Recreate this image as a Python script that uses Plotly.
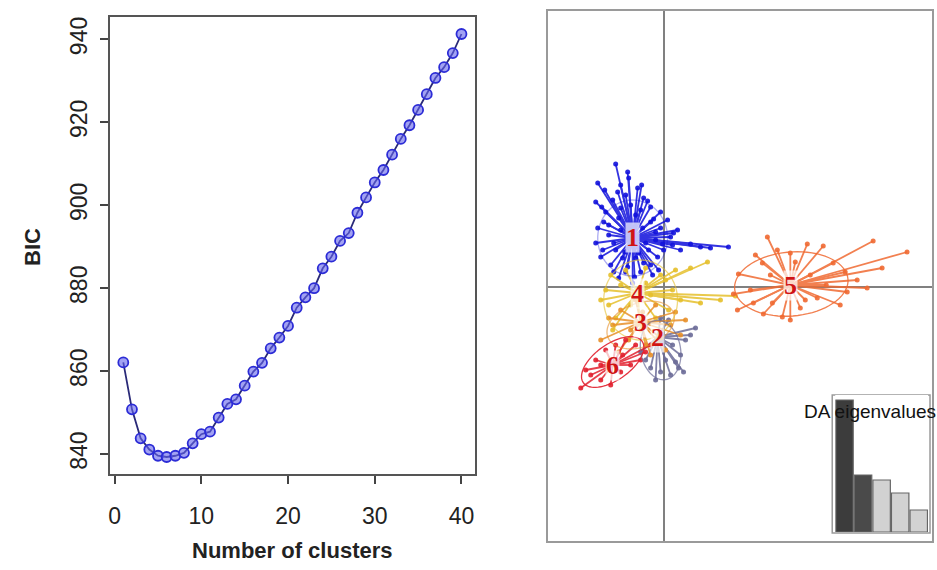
import numpy as np
import plotly.graph_objects as go

# ---------------- data: BIC curve ----------------
n_clusters = list(range(1, 41))
bic = [862.1, 850.8, 843.8, 841.1, 839.6, 839.3, 839.6, 840.3, 842.6, 844.8,
       845.4, 848.8, 852.1, 853.2, 856.5, 859.9, 862.0, 865.5, 868.1, 870.9,
       875.3, 877.8, 880.0, 884.8, 887.6, 891.4, 893.3, 898.2, 901.9, 905.5,
       908.5, 912.2, 916.0, 919.3, 923.0, 926.8, 930.7, 933.3, 936.7, 941.3]
bic_xticks = [0, 10, 20, 30, 40]
bic_yticks = [840, 860, 880, 900, 920, 940]

# ---------------- data: DAPC scatter (LD1, LD2) ----------------
cluster_labels = ["1", "2", "3", "4", "5", "6"]
cent_ld1 = [-3.1, -0.6, -2.3, -2.6, 12.7, -5.1]
cent_ld2 = [4.9, -5.0, -3.5, -0.6, 0.2, -7.8]

clu1_ld1 = [-4.8, -6.6, -4.3, -6.8, -2.6, -2.0, -1.3, -0.3, 0.4, 1.4, 0.7, 4.7, 6.5,
            -6.6, -6.8, -6.3, -5.3, -3.6, -2.0, -0.6, 0.0, -5.8, -5.1, -3.8, -3.3,
            -2.3, -4.5, -5.5, -4.8, -4.1, -2.8, -1.5, -0.8, -0.3, -1.3, -6.0, 0.9,
            2.7, 3.7, 1.7, -3.8, -2.3, -4.5, -1.3, -3.5, -5.9, -0.8, -5.0, -1.8,
            -4.3, -2.1, -2.8, -4.3, -0.5, -3.1,
            -1.0, -5.5, -2.5, -3.9, -1.6, -4.6, -6.2, -0.1, 1.0, -6.1, -5.0, -2.9,
            -1.1, -3.6, -2.2]
clu1_ld2 = [12.3, 10.4, 10.2, 8.5, 9.9, 8.9, 8.0, 7.5, 6.7, 5.7, 5.0, 3.9, 4.0,
            5.9, 4.4, 3.0, 2.2, 2.0, 2.4, 3.0, 3.7, 7.5, 8.7, 9.2, 8.2,
            7.7, 6.9, 5.2, 3.7, 2.9, 2.9, 3.7, 4.7, 5.9, 6.5, 6.5, 4.2,
            4.3, 4.0, 3.7, 1.5, 1.5, 0.9, 2.2, 10.9, 9.7, 5.5, 4.4, 4.4,
            5.7, 5.9, 7.2, 7.9, 1.7, 0.4,
            6.8, 6.2, 3.4, 3.5, 8.6, 9.5, 8.0, 4.3, 5.4, 3.7, 1.5, 1.0,
            1.2, 11.5, 10.2]

clu2_ld1 = [3.2, 2.2, 1.7, 1.5, 0.7, -0.3, -1.3, -1.8, -2.3, 0.9, 2.7, 0.5, -0.3,
            1.2, -0.8, 0.2, 2.0]
clu2_ld2 = [-4.1, -5.3, -6.8, -8.1, -8.8, -8.5, -8.1, -7.3, -6.5, -5.8, -4.8, -3.3, -3.1,
            -7.5, -9.3, -7.3, -8.5]

clu3_ld1 = [-4.3, -5.1, -3.5, -1.8, -0.3, 0.7, 1.2, -0.8, -2.8, -6.3, -4.5, -1.3,
            0.2, 2.2, -3.3, -5.5, -2.1, 1.7]
clu3_ld2 = [-2.3, -3.8, -5.3, -5.8, -5.1, -3.8, -2.5, -1.8, -1.3, -5.3, -6.5, -6.8,
            -6.3, -3.3, -4.3, -3.1, -2.5, -4.8]

clu4_ld1 = [-5.3, -5.8, -5.5, -4.8, -3.8, -1.8, -0.3, 1.2, 4.4, 2.7, 0.9, 1.7, 3.7,
            7.2, 5.7, 0.5, -0.8, -4.3, -1.3, -3.3, -1.8, -5.1, -2.3, 0.2, -6.3]
clu4_ld2 = [1.2, -0.3, -1.8, -3.1, 1.7, 1.9, 1.2, 1.7, 2.5, 1.9, -0.3, -1.3, -1.6,
            -0.9, -1.3, -2.3, -3.1, 0.2, -0.8, -1.8, 0.4, -4.3, -4.3, 0.7, -1.3]

clu5_ld1 = [10.4, 14.4, 16.0, 21.0, 24.4, 21.9, 9.9, 7.5, 7.0, 7.4, 10.0, 11.9, 13.7,
            17.7, 18.4, 20.4, 19.4, 17.0, 11.4, 12.7, 8.7, 9.0, 15.4, 10.9, 13.2,
            14.7, 10.7, 14.2, 16.3, 18.2, 9.2, 12.7]
clu5_ld2 = [5.0, 4.3, 4.1, 4.6, 3.5, 1.9, 2.4, 1.3, -0.7, -2.3, -2.7, -3.0, -2.1,
            -1.8, -0.5, -0.1, 0.7, 2.4, 3.7, 3.4, -0.3, -1.6, -1.1, -1.6, 2.5,
            1.2, 1.2, -1.3, 0.2, 1.5, 3.2, -3.3]

clu6_ld1 = [-8.3, -7.3, -6.3, -6.8, -5.8, -4.8, -3.8, -2.8, -1.8, -4.3, -3.3, -5.3,
            -7.8, -2.3, -1.3, -6.3, -4.1]
clu6_ld2 = [-10.1, -8.8, -9.3, -7.3, -6.3, -5.8, -5.3, -5.8, -6.5, -8.5, -7.8, -9.8,
            -8.3, -7.3, -5.8, -7.8, -6.8]

# ellipse parameters (centre, semi-axes, angle in degrees)
ell_cx = [-3.1, -0.3, -2.3, -2.3, 12.8, -5.1]
ell_cy = [4.9, -6.3, -3.8, -1.3, 0.3, -7.5]
ell_a = [3.5, 2.0, 3.5, 3.7, 5.7, 3.6]
ell_b = [3.8, 3.0, 2.2, 4.0, 3.2, 1.8]
ell_ang = [0, 10, 20, 0, 5, 35]

# DA eigenvalues inset
da_eig = [13.2, 5.7, 5.2, 3.9, 2.2]
da_eig_idx = [1, 2, 3, 4, 5]

# ---------------- styles ----------------
W, H = 937, 570
colors = ["#1212dc", "#6c6c98", "#e8902a", "#e6c02c", "#f06a32", "#e2202e"]
ell_opacity = [0.35, 0.7, 0.6, 0.6, 0.85, 0.9]
clu_ld1 = [clu1_ld1, clu2_ld1, clu3_ld1, clu4_ld1, clu5_ld1, clu6_ld1]
clu_ld2 = [clu1_ld2, clu2_ld2, clu3_ld2, clu4_ld2, clu5_ld2, clu6_ld2]


def px_x(p):
    return p / W


def px_y(p):
    return 1 - p / H


fig = go.Figure()

# ---- left: BIC ----
fig.add_trace(go.Scatter(
    x=n_clusters, y=bic, mode="lines+markers", xaxis="x", yaxis="y",
    line=dict(color="#2a2a78", width=1.8),
    marker=dict(symbol="circle", size=10, color="rgba(100,100,235,0.6)",
                line=dict(color="#2c2cd6", width=1.8)),
    showlegend=False, hoverinfo="x+y"))

# ---- right: DAPC scatter ----
draw_order = [0, 1, 3, 2, 5, 4]
for k in draw_order:
    sx, sy = [], []
    for a, b in zip(clu_ld1[k], clu_ld2[k]):
        sx += [cent_ld1[k], a, None]
        sy += [cent_ld2[k], b, None]
    fig.add_trace(go.Scatter(x=sx, y=sy, mode="lines", xaxis="x2", yaxis="y2",
                             line=dict(color=colors[k], width=1.8), opacity=0.85,
                             showlegend=False, hoverinfo="skip"))
    fig.add_trace(go.Scatter(x=clu_ld1[k], y=clu_ld2[k], mode="markers",
                             xaxis="x2", yaxis="y2",
                             marker=dict(size=5, color=colors[k]), opacity=0.9,
                             showlegend=False, name="cluster " + cluster_labels[k]))

shapes = []
t = np.linspace(0, 2 * np.pi, 72)
for k in range(6):
    th = np.deg2rad(ell_ang[k])
    ex = ell_cx[k] + ell_a[k] * np.cos(t) * np.cos(th) - ell_b[k] * np.sin(t) * np.sin(th)
    ey = ell_cy[k] + ell_a[k] * np.cos(t) * np.sin(th) + ell_b[k] * np.sin(t) * np.cos(th)
    path = "M " + " L ".join(f"{a:.3f},{b:.3f}" for a, b in zip(ex, ey)) + " Z"
    shapes.append(dict(type="path", path=path, xref="x2", yref="y2",
                       line=dict(color=colors[k], width=1.3), opacity=ell_opacity[k]))

# inset frame
shapes.append(dict(type="rect", xref="paper", yref="paper",
                   x0=px_x(832), x1=px_x(930), y0=px_y(533), y1=px_y(395),
                   line=dict(color="#9a9a9a", width=1.5), fillcolor="white",
                   layer="below"))

# inset bars
fig.add_trace(go.Bar(x=da_eig_idx, y=da_eig, xaxis="x3", yaxis="y3",
                     marker=dict(color=["#3c3c3c", "#4a4a4a", "#d2d2d2", "#d2d2d2", "#d2d2d2"],
                                 line=dict(color="#666666", width=1.2)),
                     showlegend=False, hoverinfo="y"))

annotations = []
for k in range(6):
    annotations.append(dict(x=cent_ld1[k], y=cent_ld2[k], xref="x2", yref="y2",
                            text="<b>" + cluster_labels[k] + "</b>", showarrow=False,
                            font=dict(family="Liberation Serif, DejaVu Serif, serif",
                                      size=26, color="#d01414"),
                            bgcolor="rgba(255,255,255,0.7)", borderpad=0))

annotations.append(dict(x=px_x(802), y=px_y(411), xref="paper", yref="paper",
                        xanchor="left", yanchor="middle", text="DA eigenvalues",
                        showarrow=False,
                        font=dict(family="Liberation Sans, Arial, sans-serif",
                                  size=19, color="#111111")))

annotations.append(dict(x=px_x(291), y=px_y(550), xref="paper", yref="paper",
                        text="<b>Number of clusters</b>", showarrow=False,
                        xanchor="center", yanchor="middle",
                        font=dict(family="Liberation Sans, Arial, sans-serif",
                                  size=22, color="#222222")))
annotations.append(dict(x=px_x(30), y=px_y(247), xref="paper", yref="paper",
                        text="<b>BIC</b>", showarrow=False, textangle=-90,
                        xanchor="center", yanchor="middle",
                        font=dict(family="Liberation Sans, Arial, sans-serif",
                                  size=22, color="#222222")))

tickfont = dict(family="Liberation Sans, Arial, sans-serif", size=23, color="#222222")

fig.update_layout(
    width=W, height=H, margin=dict(l=0, r=0, t=0, b=0),
    paper_bgcolor="white", plot_bgcolor="white", showlegend=False,
    bargap=0.06,
    xaxis=dict(domain=[px_x(108), px_x(474)], range=[-0.56, 41.56],
               tickvals=bic_xticks, ticks="outside", ticklen=8, tickwidth=1.5,
               tickcolor="#444444", showline=True, mirror=True, linecolor="#555555",
               linewidth=2, showgrid=False, zeroline=False, tickfont=tickfont,
               ticklabelstandoff=12, anchor="y"),
    yaxis=dict(domain=[px_y(474), px_y(17)], range=[835.2, 945.4],
               tickvals=bic_yticks, ticks="outside", ticklen=8, tickwidth=1.5,
               tickcolor="#444444", showline=True, mirror=True, linecolor="#555555",
               linewidth=2, showgrid=False, zeroline=False, tickfont=tickfont,
               tickangle=-90, ticklabelstandoff=4, anchor="x"),
    xaxis2=dict(domain=[px_x(547), px_x(932)], range=[-11.6, 26.9],
                showticklabels=False, ticks="", showline=True, mirror=True,
                linecolor="#9a9a9a", linewidth=2, showgrid=False,
                zeroline=True, zerolinecolor="#808080", zerolinewidth=2, anchor="y2"),
    yaxis2=dict(domain=[px_y(541), px_y(11)], range=[-25.4, 27.6],
                showticklabels=False, ticks="", showline=True, mirror=True,
                linecolor="#9a9a9a", linewidth=2, showgrid=False,
                zeroline=True, zerolinecolor="#808080", zerolinewidth=2, anchor="x2"),
    xaxis3=dict(domain=[px_x(835), px_x(928)], range=[0.5, 5.5], visible=False,
                anchor="y3"),
    yaxis3=dict(domain=[px_y(532), px_y(395)], range=[0, 13.7], visible=False,
                anchor="x3"),
    shapes=shapes, annotations=annotations,
)

fig.write_html("out.html")
